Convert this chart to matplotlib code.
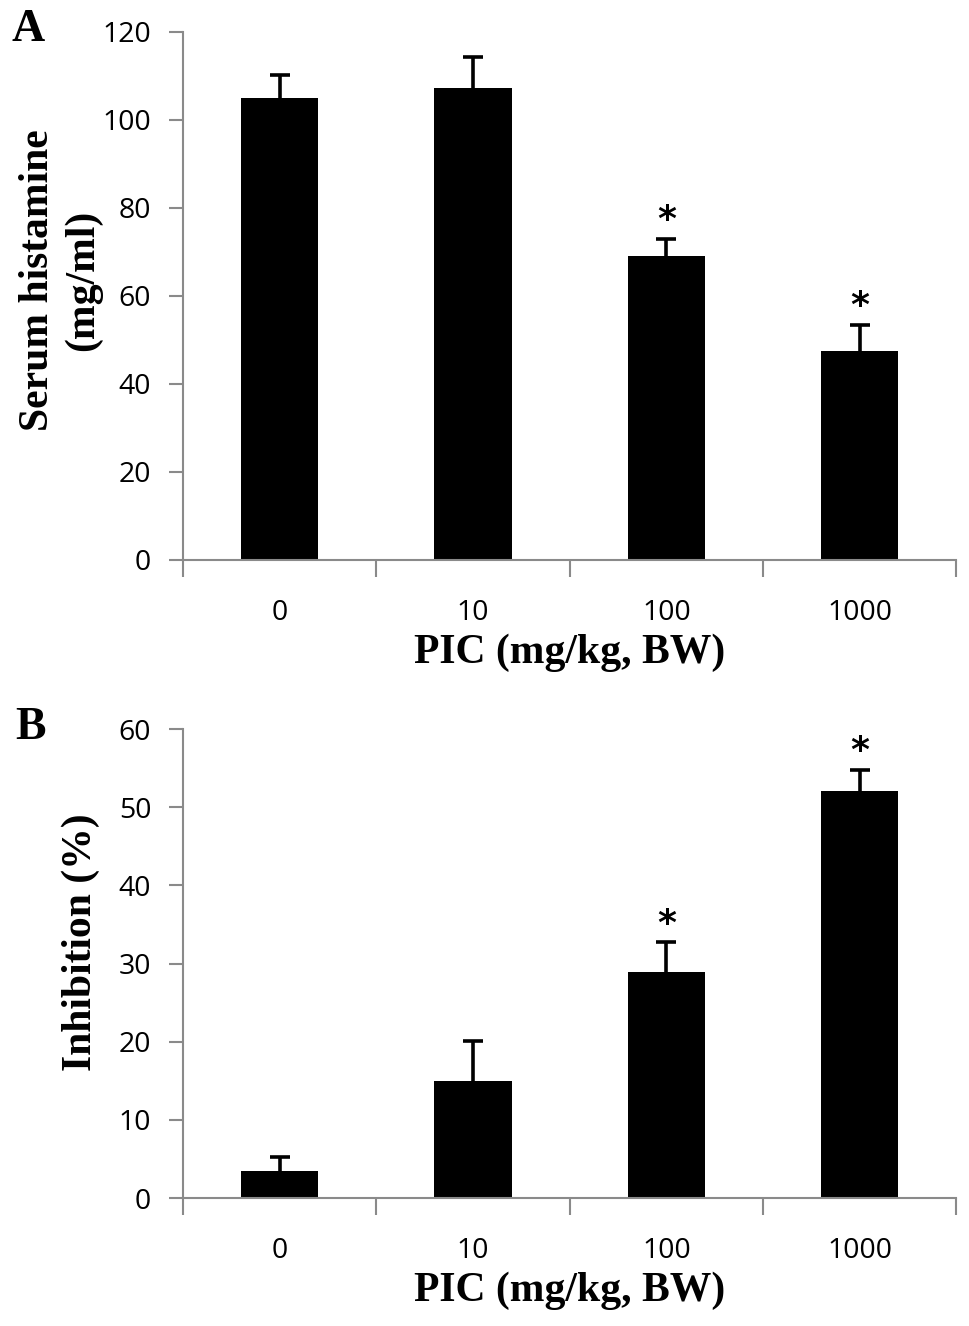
import numpy as np
import matplotlib.pyplot as plt

# data
doses = ["0", "10", "100", "1000"]
histamine = [105.0, 107.2, 69.0, 47.5]
histamine_err = [5.2, 7.0, 4.0, 6.0]
histamine_sig = [False, False, True, True]
inhibition = [3.5, 15.0, 28.9, 52.1]
inhibition_err = [1.7, 5.1, 3.8, 2.7]
inhibition_sig = [False, False, True, True]

SERIF = "Liberation Serif"
SANS = "Open Sans"
GREY = "#8a8a8a"

fig = plt.figure(figsize=(9.69, 13.26), dpi=100)


def panel(rect, vals, errs, sig, ymax, ystep, ylabel, lab_xy, letter):
    ax = fig.add_axes(rect)
    x = np.arange(1, len(vals) + 1)
    # symmetric bars drawn under the columns, so only the upper half shows
    ax.errorbar(x, vals, yerr=errs, fmt="none", ecolor="black", elinewidth=2.6,
                capsize=7, capthick=2.6, zorder=1)
    ax.bar(x, vals, width=0.4, color="black", zorder=2)
    for xi, v, e, s in zip(x, vals, errs, sig):
        if s:
            ax.annotate("*", (xi, v + e), xytext=(0, 1), textcoords="offset points",
                        ha="center", va="bottom", fontsize=26, fontweight="bold",
                        family="DejaVu Sans")
    ax.set_xlim(0.5, len(vals) + 0.5)
    ax.set_ylim(0, ymax)
    ax.set_yticks(np.arange(0, ymax + 1, ystep))
    ax.set_xticks(np.arange(0.5, len(vals) + 1, 1.0))
    ax.set_xticklabels([])
    ax.set_xticks(x, minor=True)
    ax.set_xticklabels(doses, minor=True, fontsize=20.5, family=SANS)
    ax.tick_params(axis="x", which="major", length=12, width=1.5, color=GREY, direction="out")
    ax.tick_params(axis="x", which="minor", length=0, pad=28)
    ax.tick_params(axis="y", length=10, width=1.5, color=GREY, direction="out",
                   labelsize=20.5, pad=13)
    for t in ax.get_yticklabels():
        t.set_family(SANS)
    for sp in ["top", "right"]:
        ax.spines[sp].set_visible(False)
    for sp in ["left", "bottom"]:
        ax.spines[sp].set_color(GREY)
        ax.spines[sp].set_linewidth(1.5)
    ax.set_xlabel("PIC (mg/kg, BW)", family=SERIF, fontweight="bold", fontsize=30, labelpad=5)
    ax.text(lab_xy[0], lab_xy[1], ylabel, transform=ax.transAxes, rotation=90,
            ha="center", va="center", family=SERIF, fontweight="bold", fontsize=30,
            linespacing=1.22)
    fig.text(letter[1], letter[2], letter[0], ha="center", va="center",
             family=SERIF, fontweight="bold", fontsize=33)
    return ax


panel([0.189, 0.5777, 0.798, 0.3982], histamine, histamine_err, histamine_sig,
      120, 20, "Serum histamine\n(mg/ml)", (-0.158, 0.53), ("A", 0.029, 0.977))
panel([0.189, 0.0965, 0.798, 0.3537], inhibition, inhibition_err, inhibition_sig,
      60, 10, "Inhibition (%)", (-0.132, 0.546), ("B", 0.031, 0.451))

fig.savefig("out.png", dpi=100)
